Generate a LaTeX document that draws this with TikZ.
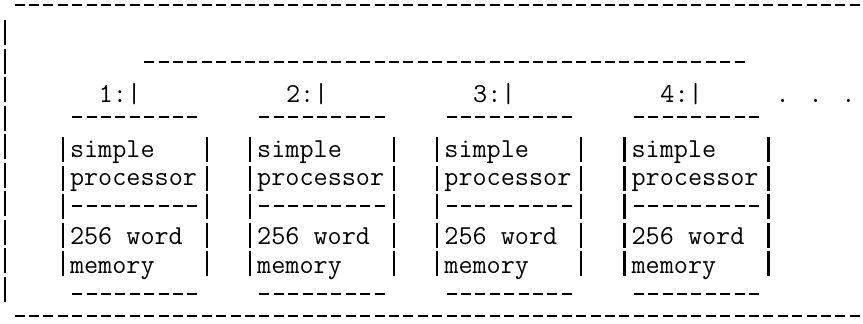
\documentclass[tikz,border=0pt]{standalone}
\usepackage{fontspec}
\begin{document}
\begin{tikzpicture}[x=1pt,y=-1pt,
  txt/.style={anchor=base west,inner sep=0pt,outer sep=0pt,
    font=\fontsize{27.4}{30}\selectfont\ttfamily\addfontfeatures{FakeBold=5}},
  dashrow/.style={line width=2.5pt,dash pattern=on 10pt off 4.4pt},
  sidebar/.style={line width=2.2pt,dash pattern=on 25pt off 3.6pt},
  framebar/.style={line width=2.2pt,dash pattern=on 25pt off 3.5pt},
]
\useasboundingbox[fill=white] (0,0) rectangle (863,324);
% outer frame (open on the right)
\coordinate (topL) at (14.6,5);
\coordinate (topR) at (863,5);
\coordinate (botL) at (14.6,316);
\coordinate (botR) at (863,316);
\coordinate (leftT) at (5.2,20);
\coordinate (leftB) at (5.2,303);
\draw[dashrow] (topL) -- (topR);
\draw[dashrow] (botL) -- (botR);
\draw[framebar] (leftT) -- (leftB);
% inner bus line
\coordinate (busL) at (144.2,62);
\coordinate (busR) at (744.6,62);
\draw[dashrow] (busL) -- (busR);
% processor/memory units
\foreach \k/\n in {0/1,1/2,2/3,3/4}{
  \pgfmathsetmacro\bx{70+187.2*\k}
  \node[txt] (lbl\n) at (\bx+28.8,102) {\n:|};
  \node[txt] (simple\n) at (\bx,157) {simple};
  \node[txt] (proc\n) at (\bx,185) {processor};
  \node[txt] (word\n) at (\bx,244) {256 word};
  \node[txt] (mem\n) at (\bx,273) {memory};
  \draw[dashrow] (\bx+2.2,117) -- ++(125.2,0);
  \draw[dashrow] (\bx+2.2,206) -- ++(125.2,0);
  \draw[dashrow] (\bx+2.2,294) -- ++(125.2,0);
  \draw[sidebar] (\bx-7.2,137) -- (\bx-7.2,280);
  \draw[sidebar] (\bx+136.8,137) -- (\bx+136.8,280);
}
\node[txt] (dots) at (775.6,102) {. . .};
\end{tikzpicture}
\end{document}
